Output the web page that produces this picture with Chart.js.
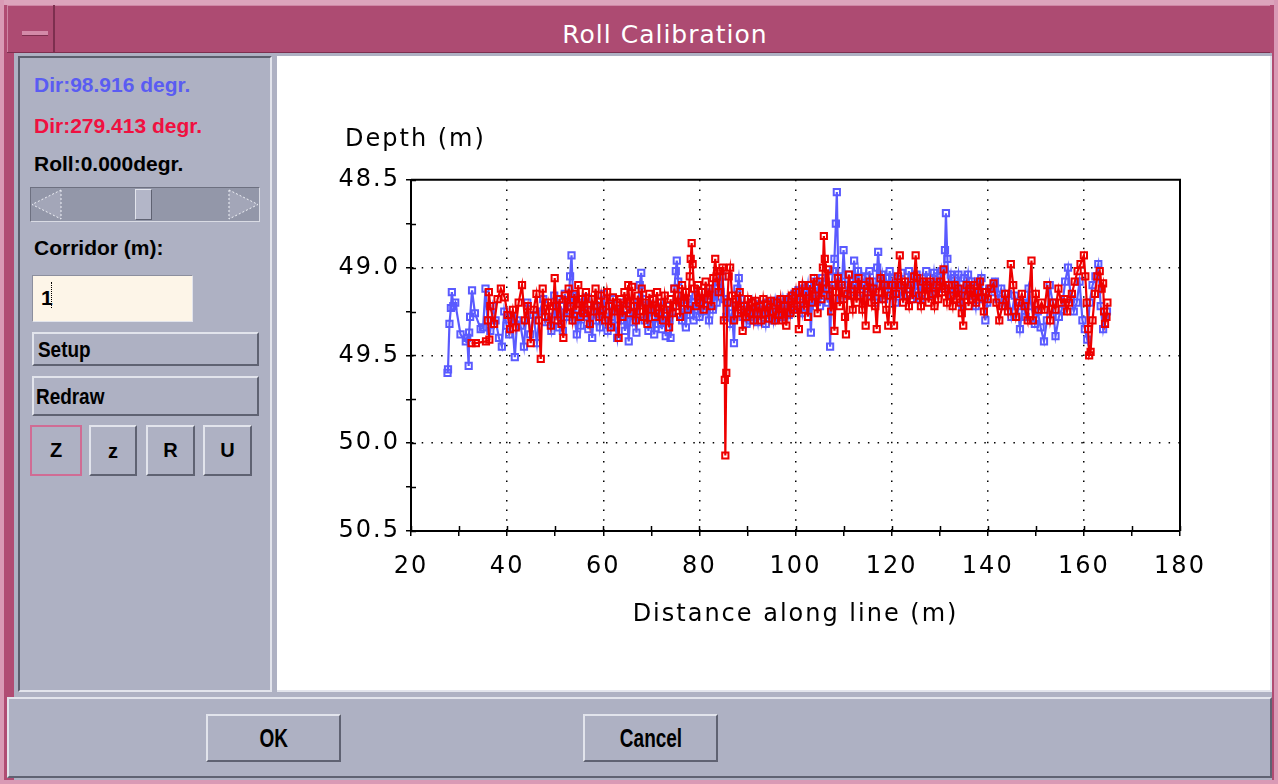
<!DOCTYPE html>
<html lang="en">
<head>
<meta charset="UTF-8">
<title>Roll Calibration</title>
<script src="https://cdn.jsdelivr.net/npm/chart.js"></script>
<style>
  body { margin: 0; width: 1278px; height: 784px; background: #b04c73; position: relative; overflow: hidden; font-family: "Liberation Sans", Arial, sans-serif; }
  .abs { position: absolute; box-sizing: border-box; }
  .raised { border: 2px solid; border-color: #e2e4ec #5f6272 #5f6272 #e2e4ec; background: #aeb1c3; }
  .lbl { font-weight: bold; font-size: 21px; white-space: nowrap; }
  .btn { font-weight: bold; font-size: 22px; color: #000; }
  .narrow { display: inline-block; transform: scaleX(0.86); transform-origin: left center; }
  .narrowc { display: inline-block; transform: scaleX(0.76); }
</style>
</head>
<body>
  <!-- window frame -->
  <div class="abs" style="left:0;top:0;width:1278px;height:5px;background:#dca4bc"></div>
  <div class="abs" style="left:0;top:0;width:4px;height:784px;background:#d99ab5"></div>
  <div class="abs" style="left:1274px;top:0;width:4px;height:784px;background:#d99ab5"></div>
  <div class="abs" style="left:0;top:780px;width:1278px;height:4px;background:#d99ab5"></div>

  <!-- title bar -->
  <div class="abs" style="left:7px;top:5px;width:1263px;height:48px;background:#ad4b72;border-top:1px solid #cf86a5;border-left:1px solid #cf86a5;border-bottom:1px solid #7d2f4f"></div>
  <div class="abs" style="left:7px;top:5px;width:48px;height:48px;border-right:2px solid #7d2f4f;border-bottom:1px solid #7d2f4f"></div>
  <div class="abs" style="left:22px;top:31px;width:26px;height:5px;background:#d38aa8;border-bottom:1px solid #7d2f4f"></div>
  <div class="abs" style="left:60px;top:20px;width:1210px;text-align:center;color:#fff;font:25px 'DejaVu Sans',sans-serif;letter-spacing:1px">Roll Calibration</div>

  <!-- dialog body -->
  <div class="abs" style="left:14px;top:53px;width:1258px;height:727px;background:#aeb1c3"></div>

  <!-- left panel -->
  <div class="abs" style="left:18px;top:56px;width:254px;height:636px;border:2px solid;border-color:#5c5f6e #e2e4ec #e2e4ec #5c5f6e"></div>
  <div class="abs lbl" style="left:34px;top:73px;color:#5a5cf2">Dir:98.916 degr.</div>
  <div class="abs lbl" style="left:34px;top:114px;color:#f01040">Dir:279.413 degr.</div>
  <div class="abs lbl" style="left:34px;top:152px;color:#000">Roll:0.000degr.</div>

  <!-- scrollbar -->
  <div class="abs" style="left:30px;top:187px;width:230px;height:35px;background:#9397a9;border:1px solid;border-color:#6d7080 #d9dbe4 #d9dbe4 #6d7080"></div>
  <svg class="abs" style="left:31px;top:188px" width="228" height="33">
    <polygon points="30,2 30,31 1,16.5" fill="#a3a6b8" stroke="#eef0f6" stroke-dasharray="2,2" stroke-width="1"/>
    <polygon points="198,2 198,31 227,16.5" fill="#a3a6b8" stroke="#eef0f6" stroke-dasharray="2,2" stroke-width="1"/>
  </svg>
  <div class="abs" style="left:135px;top:189px;width:17px;height:31px;background:#b3b6c8;border:1px solid;border-color:#e2e4ec #5f6272 #5f6272 #e2e4ec"></div>

  <div class="abs lbl" style="left:34px;top:236px;color:#000">Corridor (m):</div>
  <div class="abs" style="left:32px;top:275px;width:161px;height:47px;background:#fdf5e8;border:1px solid;border-color:#8c8f9e #e2e4ec #e2e4ec #8c8f9e"></div>
  <div class="abs lbl" style="left:41px;top:286px;color:#000">1</div>
  <div class="abs" style="left:51px;top:282px;width:0;height:26px;border-left:1px dotted #000"></div>

  <div class="abs raised btn" style="left:32px;top:332px;width:227px;height:34px;padding:3px 0 0 4px"><span class="narrow">Setup</span></div>
  <div class="abs raised btn" style="left:32px;top:376px;width:227px;height:40px;padding:6px 0 0 2px"><span class="narrow">Redraw</span></div>

  <div class="abs raised btn" style="left:30px;top:425px;width:52px;height:51px;border-color:#d06c94;text-align:center;line-height:46px;font-size:20px">Z</div>
  <div class="abs raised btn" style="left:89px;top:425px;width:48px;height:51px;text-align:center;line-height:48px;font-size:20px">z</div>
  <div class="abs raised btn" style="left:146px;top:425px;width:49px;height:51px;text-align:center;line-height:46px;font-size:20px">R</div>
  <div class="abs raised btn" style="left:203px;top:425px;width:49px;height:51px;text-align:center;line-height:46px;font-size:20px">U</div>

  <!-- plot area -->
  <div class="abs" style="left:277px;top:56px;width:995px;height:636px;background:#fff;border-right:2px solid #e2e4ec;border-bottom:2px solid #e2e4ec"></div>
  <div class="abs" style="left:277px;top:56px;width:993px;height:634px">
    <canvas id="rollChart" width="993" height="634"></canvas>
  </div>

  <!-- bottom bar -->
  <div class="abs raised" style="left:7px;top:697px;width:1265px;height:81px"></div>
  <div class="abs raised btn" style="left:206px;top:714px;width:135px;height:48px;text-align:center;line-height:44px;font-size:25px"><span class="narrowc">OK</span></div>
  <div class="abs raised btn" style="left:583px;top:714px;width:135px;height:48px;text-align:center;line-height:44px;font-size:25px"><span class="narrowc">Cancel</span></div>

<script>
  // tick values
  const xMajor = [20, 40, 60, 80, 100, 120, 140, 160, 180]
  const yMajor = [48.5, 49.0, 49.5, 50.0, 50.5]

  // Dir 98.916 (blue)
  const blueDist = [
    27.6, 27.7, 28.0, 28.3, 28.5, 28.8, 29.2, 30.3, 31.4, 31.7,
    32.0, 32.1, 32.3, 32.7, 33.3, 34.5, 35.0, 35.5, 35.9, 36.5,
    37.0, 37.6, 38.3, 38.9, 39.4, 39.9, 40.4, 41.0, 41.6, 42.1,
    42.8, 43.5, 44.2, 44.8, 45.5, 46.2, 46.8, 47.5, 48.0, 48.6,
    49.2, 49.8,
    50.0, 50.4, 50.8, 51.2, 51.6, 52.0, 52.4, 52.8, 53.1, 53.4,
    53.7, 54.1, 54.5, 54.9, 55.3, 55.7, 56.1, 56.5, 56.9, 57.3,
    57.7, 58.1, 58.5, 58.9, 59.3, 59.7, 60.1, 60.5, 60.9, 61.3,
    61.7, 62.1, 62.5, 62.9, 63.3, 63.7, 64.1, 64.5, 64.9, 65.3,
    65.7, 66.1, 66.5, 66.9, 67.3, 67.6, 67.9, 68.2, 68.6, 69.0,
    69.4, 69.8, 70.2, 70.6, 71.0, 71.4, 71.8, 72.2, 72.6, 73.0,
    73.4, 73.8, 74.0, 74.4, 74.8, 75.1, 75.3, 75.6, 76.0, 76.4,
    76.8, 77.2, 77.6, 78.0, 78.4, 78.8, 79.2, 79.6, 80.0, 80.4,
    80.8, 81.2, 81.6, 82.0, 82.4, 82.8, 83.2, 83.6, 84.0, 84.4,
    84.8, 85.2, 85.6, 86.0, 86.4, 86.8, 87.2, 87.5, 87.9, 88.2,
    88.6, 89.0, 89.4, 89.8, 90.2, 90.6, 91.0, 91.4, 91.8, 92.2,
    92.6, 93.0, 93.4, 93.8, 94.2, 94.6, 95.0, 95.4, 95.8, 96.2,
    96.6, 97.0, 97.4, 97.8, 98.2, 98.6, 99.0, 99.4, 99.8, 100.2,
    100.6, 101.0, 101.4, 101.8, 102.2, 102.6, 103.0, 103.2, 103.5, 103.9,
    104.3, 104.7, 105.1, 105.5, 105.9, 106.3, 106.7, 107.0, 107.2, 107.5,
    107.8, 108.1, 108.4, 108.6, 108.9, 109.3, 109.7, 110.0, 110.4, 110.8,
    111.2, 111.6, 112.0, 112.2, 112.6, 113.0, 113.4, 113.8, 114.2, 114.6,
    115.0, 115.4, 115.8, 116.2, 116.6, 117.0, 117.2, 117.6, 118.0, 118.4,
    118.8, 119.2, 119.6, 120.0, 120.4, 120.8, 121.2, 121.6, 122.0, 122.4,
    122.8, 123.2, 123.6, 124.0, 124.4, 124.8, 125.2, 125.6, 126.0, 126.4,
    126.8, 127.2, 127.6, 128.0, 128.4, 128.8, 129.2, 129.6, 130.0, 130.4,
    130.8, 131.1, 131.3, 131.6, 131.9, 132.3, 132.7, 133.1, 133.5, 133.9,
    134.3, 134.7, 135.1, 135.5, 135.9, 136.3, 136.7, 137.1, 137.5, 137.9,
    138.3, 138.7, 139.1, 139.5, 139.9, 140.3,
    140.8, 141.5, 142.2, 142.8, 143.5, 144.2, 144.9, 145.6, 146.2, 146.7,
    147.3, 147.9, 148.5, 149.1, 149.8, 150.4, 151.0, 151.7, 152.3, 152.9,
    153.5, 154.1, 154.8, 155.4, 156.1, 156.7, 157.3, 157.9, 158.5, 159.1,
    159.7, 160.2, 160.7, 161.2, 161.8, 162.4, 163.0, 163.5, 164.0, 164.4,
    164.8
  ]
  const blueDepth = [
    49.60, 49.58, 49.32, 49.23, 49.14, 49.22, 49.20, 49.38, 49.42, 49.40,
    49.56, 49.37, 49.28, 49.13, 49.26, 49.35, 49.34, 49.12, 49.30, 49.36,
    49.22, 49.30, 49.40, 49.45, 49.25, 49.33, 49.38, 49.28, 49.51, 49.30,
    49.33, 49.45, 49.20, 49.38, 49.27, 49.43, 49.25, 49.18, 49.31, 49.28,
    49.36, 49.16,
    49.30, 49.18, 49.34, 49.22, 49.36, 49.15, 49.28, 49.20, 49.05, 48.93,
    49.16, 49.30, 49.38, 49.24, 49.33, 49.20, 49.28, 49.17, 49.35, 49.25,
    49.40, 49.22, 49.30, 49.19, 49.34, 49.26, 49.15, 49.30, 49.36, 49.22,
    49.28, 49.18, 49.33, 49.40, 49.24, 49.30, 49.20, 49.36, 49.27, 49.42,
    49.22, 49.31, 49.25, 49.37, 49.20, 49.10, 49.03, 49.18, 49.30, 49.23,
    49.36, 49.21, 49.29, 49.38, 49.24, 49.32, 49.20, 49.35, 49.26, 49.39,
    49.22, 49.30, 49.40, 49.25, 49.12, 49.02, 48.96, 49.08, 49.20, 49.30,
    49.22, 49.34, 49.18, 49.27, 49.20, 49.30, 49.16, 49.24, 49.28, 49.18,
    49.25, 49.14, 49.22, 49.30, 49.16, 49.24, 49.12, 49.20, 49.08, 49.14,
    49.05, 49.18, 49.28, 49.20, 49.32, 49.26, 49.43, 49.22, 49.12, 49.06,
    49.18, 49.28, 49.22, 49.32, 49.24, 49.30, 49.20, 49.28, 49.23, 49.31,
    49.21, 49.27, 49.24, 49.32, 49.20, 49.27, 49.22, 49.30, 49.19, 49.26,
    49.22, 49.28, 49.18, 49.25, 49.20, 49.27, 49.17, 49.24, 49.15, 49.22,
    49.13, 49.20, 49.26, 49.12, 49.19, 49.10, 49.22, 49.37, 49.15, 49.08,
    49.18, 49.10, 49.22, 49.06, 49.16, 49.08, 49.20, 49.12, 49.45, 49.10,
    49.02, 48.95, 48.75, 48.57, 49.05, 49.18, 49.08, 48.90, 49.10, 49.16,
    49.04, 49.14, 49.08, 48.96, 49.10, 49.02, 49.14, 49.06, 49.18, 49.05,
    49.12, 49.02, 49.16, 49.08, 49.20, 49.00, 48.91, 49.10, 49.04, 49.18,
    49.06, 49.14, 49.02, 49.12, 49.06, 49.20, 49.08, 49.14, 49.03, 49.16,
    49.08, 49.12, 49.02, 49.18, 49.08, 49.14, 49.04, 49.10, 49.18, 49.06,
    49.12, 49.02, 49.16, 49.06, 49.12, 49.03, 49.14, 49.05, 49.10, 49.02,
    49.12, 48.90, 48.69, 48.95, 49.10, 49.04, 49.16, 49.06, 49.12, 49.04,
    49.14, 49.22, 49.06, 49.12, 49.04, 49.16, 49.08, 49.14, 49.22, 49.08,
    49.14, 49.06, 49.18, 49.30, 49.20, 49.12,
    49.14, 49.08, 49.18, 49.12, 49.22, 49.15, 49.28, 49.16, 49.22, 49.35,
    49.20, 49.28, 49.12, 49.22, 49.32, 49.25, 49.34, 49.42, 49.30, 49.10,
    49.20, 49.39, 49.28, 49.24, 49.08, 49.00, 49.18, 49.25, 49.20, 49.08,
    49.30, 49.35, 49.41, 49.20, 49.10, 49.05, 48.98, 49.22, 49.35, 49.28,
    49.25
  ]

  // Dir 279.413 (red)
  const redDist = [
    32.6, 33.5, 35.6, 36.3, 36.0, 36.2, 36.5, 37.3, 38.0, 38.7,
    39.5, 40.1, 40.6, 41.2, 41.8, 42.4, 43.1, 43.7, 44.3, 44.9,
    45.5, 46.1, 46.6, 47.0, 47.4, 47.9, 48.5, 49.1, 49.6, 49.9,
    50.2, 50.5, 50.9, 51.3, 51.7, 52.0, 52.4, 52.8, 53.2, 53.6,
    54.0, 54.4, 54.8, 55.2, 55.6, 56.0, 56.4, 56.8, 57.2, 57.6,
    58.0, 58.4, 58.8, 59.2, 59.6, 60.0, 60.4, 60.8, 61.2, 61.6,
    62.0, 62.4, 62.8, 63.2, 63.6, 64.0, 64.4, 64.8, 65.2, 65.6,
    66.0, 66.4, 66.8, 67.2, 67.6, 68.0, 68.4, 68.8, 69.2, 69.6,
    70.0, 70.4, 70.8, 71.2, 71.6, 72.0, 72.4, 72.8, 73.2, 73.7,
    74.0, 74.4, 74.8, 75.2, 75.6, 76.0, 76.4, 76.8, 77.2, 77.6,
    78.0, 78.2, 78.4, 78.6, 78.9, 79.3, 79.7, 80.1, 80.5, 80.9,
    81.3, 81.7, 82.1, 82.5, 82.9, 83.3, 83.6, 84.0, 84.4, 84.8,
    85.1, 85.3, 85.4, 85.6, 85.8, 86.1, 86.4, 86.8, 87.2, 87.6,
    88.0, 88.4, 88.7, 89.0, 89.3, 89.7, 90.1, 90.5, 90.9, 91.3,
    91.7, 92.1, 92.5, 92.9, 93.3, 93.7, 94.1, 94.5, 94.9, 95.3,
    95.7, 96.1, 96.5, 96.9, 97.3, 97.7, 98.1, 98.5, 98.9, 99.3,
    99.7, 100.1, 100.4, 100.7, 101.0, 101.4, 101.8, 102.2, 102.6, 103.0,
    103.4, 103.8, 104.2, 104.6, 105.0, 105.4, 105.7, 105.9, 106.1, 106.4,
    106.8, 107.1, 107.4, 107.7, 108.1, 108.4, 108.8, 109.2, 109.6, 110.0,
    110.3, 110.5, 110.8, 111.1, 111.5, 111.9, 112.3, 112.7, 113.1, 113.5,
    113.9, 114.3, 114.6, 115.0, 115.4, 115.8, 116.2, 116.6, 116.9, 117.3,
    117.7, 118.1, 118.5, 118.9, 119.3, 119.7, 120.1, 120.5, 120.9, 121.3,
    121.7, 122.0, 122.4, 122.8, 123.2, 123.6, 124.0, 124.4, 124.7, 125.0,
    125.3, 125.7, 126.1, 126.5, 126.9, 127.3, 127.7, 128.1, 128.5, 128.9,
    129.3, 129.7, 130.1, 130.5, 130.8, 131.1, 131.5, 131.9, 132.3, 132.7,
    133.1, 133.5, 133.9, 134.3, 134.6, 134.9, 135.2, 135.6, 136.0, 136.4,
    136.8, 137.2, 137.6, 138.0, 138.4, 138.8, 139.2, 139.6, 140.0,
    140.6, 141.2, 141.8, 142.4, 143.0, 143.6, 144.2, 144.8, 145.3, 145.9,
    146.5, 147.1, 147.7, 148.3, 149.1, 149.4, 150.0, 150.6, 151.2, 151.8,
    152.4, 153.0, 153.6, 154.1, 154.7, 155.3, 155.9, 156.5, 156.9, 157.5,
    158.1, 158.7, 159.3, 160.0, 160.3, 160.6, 160.9, 161.1, 161.4, 161.8,
    162.3, 162.8, 163.3, 163.7, 164.0, 164.2, 164.4, 164.7, 164.9
  ]
  const redDepth = [
    49.43, 49.43, 49.42, 49.41, 49.30, 49.14, 49.22, 49.32, 49.18, 49.12,
    49.17, 49.27, 49.35, 49.24, 49.34, 49.20, 49.10, 49.30, 49.22, 49.43,
    49.24, 49.15, 49.30, 49.52, 49.12, 49.28, 49.20, 49.33, 49.22, 49.06,
    49.22, 49.30, 49.18, 49.32, 49.40, 49.16, 49.26, 49.12, 49.22, 49.30,
    49.15, 49.24, 49.10, 49.28, 49.18, 49.26, 49.14, 49.24, 49.32, 49.18,
    49.25, 49.12, 49.22, 49.28, 49.16, 49.24, 49.30, 49.14, 49.22, 49.34,
    49.17, 49.25, 49.20, 49.40, 49.18, 49.28, 49.14, 49.24, 49.10, 49.26,
    49.11, 49.22, 49.30, 49.16, 49.25, 49.12, 49.28, 49.20, 49.32, 49.15,
    49.24, 49.18, 49.28, 49.14, 49.26, 49.20, 49.30, 49.16, 49.24, 49.34,
    49.18, 49.26, 49.12, 49.22, 49.16, 49.28, 49.10, 49.20, 49.14, 49.24,
    49.05, 48.95, 48.86, 48.98, 49.12, 49.22, 49.10, 49.20, 49.14, 49.24,
    49.08, 49.18, 49.12, 49.22, 49.06, 48.95, 49.05, 49.14, 49.02, 49.00,
    49.30, 49.64, 50.07, 49.60, 49.20, 49.05, 49.00, 49.16, 49.30, 49.18,
    49.26, 49.14, 49.24, 49.36, 49.22, 49.28, 49.18, 49.26, 49.20, 49.30,
    49.19, 49.26, 49.22, 49.30, 49.18, 49.26, 49.21, 49.29, 49.19, 49.25,
    49.30, 49.20, 49.27, 49.18, 49.30, 49.22, 49.33, 49.18, 49.26, 49.16,
    49.24, 49.14, 49.22, 49.35, 49.18, 49.10, 49.24, 49.14, 49.28, 49.10,
    49.20, 49.06, 49.16, 49.26, 49.08, 49.18, 49.00, 48.82, 48.95, 49.12,
    49.01, 49.16, 49.25, 49.10, 49.36, 49.14, 49.06, 49.22, 49.10, 49.18,
    49.28, 49.38, 49.15, 49.04, 49.16, 49.24, 49.10, 49.20, 49.06, 49.16,
    49.24, 49.10, 49.33, 49.14, 49.08, 49.20, 49.12, 49.22, 49.35, 49.14,
    49.06, 49.18, 49.10, 49.24, 49.33, 49.16, 49.10, 49.33, 49.15, 49.05,
    48.93, 49.10, 49.20, 49.08, 49.16, 49.22, 49.10, 49.18, 49.05, 48.93,
    49.06, 49.16, 49.22, 49.08, 49.16, 49.10, 49.20, 49.08, 49.15, 49.22,
    49.10, 49.18, 49.08, 49.14, 49.01, 49.12, 49.20, 49.10, 49.16, 49.22,
    49.10, 49.18, 49.12, 49.20, 49.26, 49.33, 49.16, 49.10, 49.22, 49.12,
    49.18, 49.10, 49.20, 49.14, 49.08, 49.17, 49.25, 49.14, 49.18,
    49.12, 49.09, 49.20, 49.30, 49.22, 49.15, 49.25, 48.98, 49.10, 49.28,
    49.20, 49.15, 49.22, 49.30, 48.96, 49.30, 49.15, 49.24, 49.20, 49.24,
    49.10, 49.30, 49.20, 49.24, 49.12, 49.20, 49.18, 49.25, 49.20, 49.15,
    49.08, 49.02, 48.98, 48.93, 49.05, 49.20, 49.35, 49.50, 49.48, 49.30,
    49.15, 49.05, 49.02, 49.12, 49.09, 49.25, 49.32, 49.28, 49.20
  ]

  const toPoints = (xs, ys) => xs.map((x, i) => ({ x: x, y: ys[i] }))

  const axisFont = { family: 'DejaVu Sans', size: 24 }
  const isMajor = (list, v) => list.some((m) => Math.abs(m - v) < 1e-6)
  const innerGrid = (list) => (ctx) => {
    const v = ctx.tick && ctx.tick.value
    if (v === undefined || !isMajor(list, v)) return 'transparent'
    if (v === list[0] || v === list[list.length - 1]) return 'transparent'
    return '#000'
  }

  // frame on top/right, inward tick marks, and room for the y labels
  const frame = {
    id: 'frame',
    afterLayout(chart) {
      chart.scales.y.left = 0
    },
    beforeDraw(chart) {
      chart.ctx.letterSpacing = '2px'
    },
    afterDraw(chart) {
      const { ctx, chartArea: a, scales } = chart
      ctx.save()
      ctx.strokeStyle = '#000'
      ctx.lineWidth = 2
      ctx.beginPath()
      ctx.moveTo(a.left, a.top)
      ctx.lineTo(a.right, a.top)
      ctx.lineTo(a.right, a.bottom)
      ctx.stroke()
      ctx.lineWidth = 1.5
      ctx.beginPath()
      scales.x.ticks.forEach((t) => {
        const px = Math.round(scales.x.getPixelForValue(t.value)) + 0.5
        ctx.moveTo(px, a.bottom)
        ctx.lineTo(px, a.bottom - 5)
      })
      scales.y.ticks.forEach((t) => {
        const py = Math.round(scales.y.getPixelForValue(t.value)) + 0.5
        ctx.moveTo(a.left, py)
        ctx.lineTo(a.left + 5, py)
      })
      ctx.stroke()
      ctx.restore()
    }
  }

  const ctx = document.getElementById('rollChart').getContext('2d')
  new Chart(ctx, {
    type: 'scatter',
    data: {
      datasets: [
        {
          label: 'Dir:279.413 degr.',
          data: toPoints(redDist, redDepth),
          showLine: true,
          borderColor: '#ee0000',
          borderWidth: 2.2,
          pointStyle: 'rect',
          pointRadius: 4.4,
          pointBorderWidth: 2,
          pointBorderColor: '#ee0000',
          pointBackgroundColor: 'rgba(255,255,255,0)',
          order: 0
        },
        {
          label: 'Dir:98.916 degr.',
          data: toPoints(blueDist, blueDepth),
          showLine: true,
          borderColor: '#5a5aff',
          borderWidth: 2.2,
          pointStyle: 'rect',
          pointRadius: 4.4,
          pointBorderWidth: 2,
          pointBorderColor: '#5a5aff',
          pointBackgroundColor: 'rgba(255,255,255,0)',
          order: 1
        }
      ]
    },
    options: {
      responsive: false,
      animation: false,
      layout: { padding: { left: 68, right: 90, top: 0, bottom: 0 } },
      plugins: {
        legend: { display: false },
        tooltip: { enabled: false },
        title: {
          display: true,
          text: 'Depth (m)',
          align: 'start',
          color: '#000',
          font: { family: 'DejaVu Sans', size: 24, weight: 'normal' },
          padding: { top: 69, bottom: 26 }
        }
      },
      scales: {
        x: {
          type: 'linear',
          min: xMajor[0],
          max: xMajor[xMajor.length - 1],
          afterFit: (s) => { s.height = 159 },
          ticks: {
            stepSize: 10,
            autoSkip: false,
            maxRotation: 0,
            color: '#000',
            font: axisFont,
            padding: 16,
            callback: (v) => (isMajor(xMajor, v) ? String(v) : '')
          },
          grid: { color: innerGrid(xMajor), lineWidth: 1.5, tickColor: '#000', tickLength: 5, tickWidth: 1.5 },
          border: { display: true, color: '#000', width: 2, dash: [1.5, 8.2] },
          title: {
            display: true,
            text: 'Distance along line (m)',
            color: '#000',
            font: axisFont,
            padding: { top: 0, bottom: 61 }
          }
        },
        y: {
          type: 'linear',
          reverse: true,
          min: yMajor[0],
          max: yMajor[yMajor.length - 1],
          afterFit: (s) => { s.width = 66 },
          ticks: {
            stepSize: 0.25,
            autoSkip: false,
            color: '#000',
            font: axisFont,
            padding: 6,
            callback: (v) => (isMajor(yMajor, v) ? v.toFixed(1) : '')
          },
          grid: { color: innerGrid(yMajor), lineWidth: 1.5, tickColor: '#000', tickLength: 5, tickWidth: 1.5 },
          border: { display: true, color: '#000', width: 2, dash: [1.5, 8.2] }
        }
      }
    },
    plugins: [frame]
  })
</script>
</body>
</html>
